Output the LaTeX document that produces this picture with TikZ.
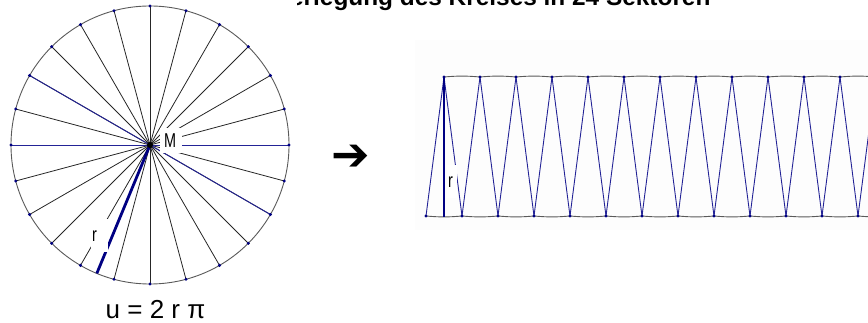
\documentclass[tikz,border=0pt]{standalone}
\usepackage{fontspec}
\setmainfont{Liberation Sans}
\newfontfamily\symfont{DejaVu Sans}
\definecolor{navy}{RGB}{0,0,130}
\definecolor{lineblue}{RGB}{35,35,150}
\definecolor{rimgray}{RGB}{90,90,90}
\begin{document}
\begin{tikzpicture}[x=1pt,y=-1pt,
  radiusline/.style={draw=black!85, line width=0.8pt},
  blueline/.style={draw=lineblue, line width=0.9pt},
  thickline/.style={draw=navy, line width=2.8pt},
  rim/.style={draw=rimgray, line width=0.9pt},
  dot/.style={circle, fill=navy, inner sep=0pt, minimum size=3.4pt},
  occluder/.style={fill=white, inner sep=0pt}]
\useasboundingbox (0,0) rectangle (868,323);

% title (left part hidden behind the circle picture)
\begin{scope}
  \clip (297,-10) rectangle (868,40);
  \node[anchor=base west, inner sep=0pt, font=\fontsize{24.4}{26}\selectfont\bfseries] (title) at (275,6) {Zerlegung des Kreises in 24 Sektoren};
\end{scope}

% ---------- circle ----------
\coordinate (M) at (150,145);
\draw[rim] (M) circle[radius=139pt];
\foreach \i in {0,...,23} {
  \path (M) ++(\i*15:139pt) coordinate (p\i);
}
\foreach \i in {0,...,23} {
  \draw[radiusline] (M) -- (p\i);
}
\foreach \i in {0,10,12,22} {
  \draw[blueline] (M) -- (p\i);
}
\path (M) ++(247.5:139pt) coordinate (R);
\draw[thickline] (M) -- (R);
\foreach \i in {0,...,23} {
  \node[dot] (d\i) at (p\i) {};
}
\node[circle, fill=black, inner sep=0pt, minimum size=6pt] (Mdot) at (M) {};
\node[occluder, anchor=north west, minimum height=25pt, font=\fontsize{20}{20}\selectfont] (Mlab) at (160,128) {\makebox[22pt][l]{\hspace{4pt}\scalebox{0.72}[1]{M}}};
\node[occluder, anchor=north west, minimum height=33pt, font=\fontsize{20}{20}\selectfont] (rlab) at (91,219) {\makebox[17pt][l]{\hspace{1pt}\scalebox{0.72}[1]{r}}};
\node[anchor=base, inner sep=0pt, font=\fontsize{26}{26}\selectfont] (u) at (155.5,319) {u = 2 r π};

% ---------- arrow ----------
\node[inner sep=0pt, font=\symfont\fontsize{46}{46}\selectfont] (arrow) at (351,158) {➔};

% ---------- unrolled sectors ----------
\begin{scope}
  \clip (400,0) rectangle (868,323);
  \fill[black!0.8] (415,40) rectangle (868,230);
  \foreach \k in {0,...,12} {
    \coordinate (t\k) at (444+36*\k,77);
  }
  \foreach \k in {0,...,13} {
    \coordinate (b\k) at (426+36*\k,216);
  }
  \foreach \k [evaluate=\k as \n using int(\k+1)] in {0,...,11} {
    \draw[rim] (t\k) to[bend left=5] (t\n);
  }
  \foreach \k [evaluate=\k as \n using int(\k+1)] in {0,...,12} {
    \draw[rim] (b\k) to[bend right=5] (b\n);
  }
  \foreach \k [evaluate=\k as \n using int(\k+1)] in {0,...,12} {
    \draw[blueline] (b\k) -- (t\k);
    \draw[blueline] (t\k) -- (b\n);
  }
  \coordinate (rb) at (444,217);
  \draw[thickline] (t0) -- (rb);
  \foreach \k in {0,...,11} {
    \node[dot] (td\k) at (t\k) {};
  }
  \foreach \k in {0,...,12} {
    \node[dot] (bd\k) at (b\k) {};
  }
  \node[occluder, anchor=north west, minimum height=33pt, font=\fontsize{20}{20}\selectfont] (rlab2) at (447,165) {\makebox[10pt][l]{\hspace{1pt}\scalebox{0.72}[1]{r}}};
\end{scope}
\end{tikzpicture}
\end{document}
